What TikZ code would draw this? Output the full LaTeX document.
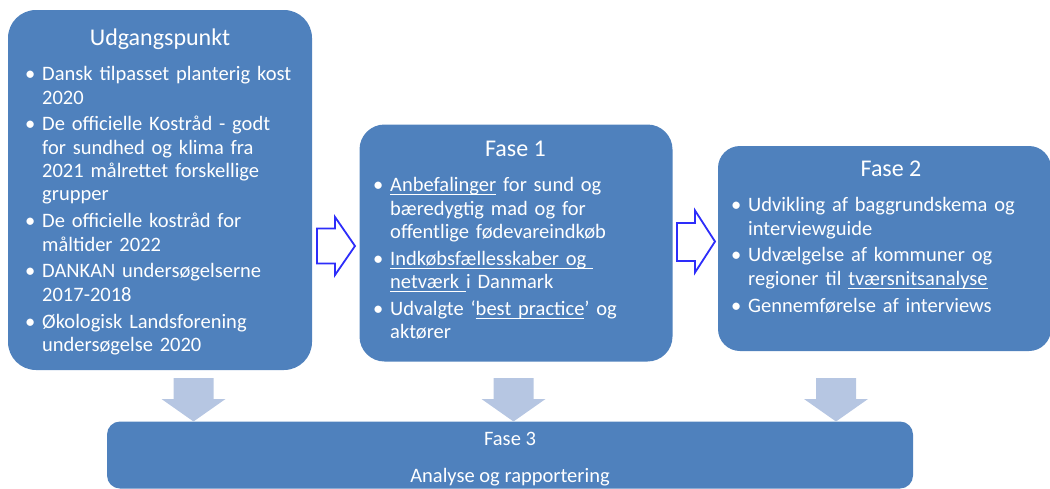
\documentclass[tikz,border=0pt]{standalone}
\usepackage{fontspec}
\setmainfont{Carlito}
\definecolor{boxblue}{RGB}{79,129,189}
\definecolor{arrowlight}{RGB}{182,198,226}
\definecolor{arrowblue}{RGB}{45,45,250}
\newcommand\bitem[1]{\noindent\hangindent=17pt\hangafter=1\makebox[17pt][l]{\textbullet}#1\par}
\newcommand\ulx[1]{\setbox0\hbox{#1}\rlap{\rule[-3.2pt]{\wd0}{0.9pt}}\box0\relax}
\begin{document}
\begin{tikzpicture}[x=1pt,y=-1pt,
  box/.style={rectangle, fill=boxblue, draw=none, inner sep=0pt},
  titletext/.style={anchor=base, text=white, font=\fontsize{24}{28}\selectfont, inner sep=0pt},
  smalltext/.style={anchor=base, text=white, font=\fontsize{20.5}{24}\selectfont, inner sep=0pt},
  bodytext/.style={anchor=base west, text=white, inner sep=0pt, text width=#1, align=left,
    font=\fontsize{20.5}{23.3}\selectfont\setlength\parskip{3.6pt}},
  downarrow/.style={fill=arrowlight, draw=none},
  rightarrow/.style={draw=arrowblue, line width=1.8pt, fill=white, line join=miter}
]
\useasboundingbox (0,0) rectangle (1050,488);

% boxes
\node[box, rounded corners=28pt, minimum width=304pt, minimum height=360pt] (u) at (160,190) {};
\node[box, rounded corners=25pt, minimum width=313pt, minimum height=237pt] (f1) at (516,243) {};
\node[box, rounded corners=22pt, minimum width=333pt, minimum height=205pt] (f2) at (884.5,248.5) {};
\node[box, rounded corners=13pt, minimum width=806pt, minimum height=67pt] (f3) at (510,455) {};

% titles
\node[titletext] (tu) at (160,45) {Udgangspunkt};
\node[titletext] (t1) at (515.5,156) {Fase 1};
\node[titletext] (t2) at (891,176) {Fase 2};
\node[smalltext] (t3) at (510,445) {Fase 3};
\node[smalltext] (t3b) at (510,482) {Analyse og rapportering};

% bodies
\node[bodytext=295pt] (bu) at (25,80.7) {%
\bitem{Dansk tilpasset planterig kost\newline 2020}%
\bitem{De officielle Kostråd - godt\newline for sundhed og klima fra\newline 2021 målrettet forskellige\newline grupper}%
\bitem{De officielle kostråd for\newline måltider 2022}%
\bitem{DANKAN undersøgelserne\newline 2017-2018}%
\bitem{Økologisk Landsforening\newline undersøgelse 2020}};

\node[bodytext=300pt] (b1) at (373,191.7) {%
\bitem{\ulx{Anbefalinger} for sund og\newline bæredygtig mad og for\newline offentlige fødevareindkøb}%
\bitem{\ulx{Indkøbsfællesskaber og\ }\newline \ulx{netværk\ }i Danmark}%
\bitem{Udvalgte ‘\ulx{best practice}’ og\newline aktører}};

\node[bodytext=315pt] (b2) at (731,211.7) {%
\bitem{Udvikling af baggrundskema og\newline interviewguide}%
\bitem{Udvælgelse af kommuner og\newline regioner til \ulx{tværsnitsanalyse}}%
\bitem{Gennemførelse af interviews}};

% right block arrows
\draw[rightarrow] (317,228.5) -- (335,228.5) -- (335,217) -- (355,246) -- (335,275) -- (335,263.5) -- (317,263.5) -- cycle;
\draw[rightarrow] (677,223) -- (695,223) -- (695,210.5) -- (715,241.5) -- (695,272.5) -- (695,261) -- (677,261) -- cycle;

% down block arrows
\foreach \c in {193.5,513.5,836}{
  \fill[downarrow] (\c-20,378) -- (\c+20,378) -- (\c+20,399) -- (\c+32,399) -- (\c,421.5) -- (\c-32,399) -- (\c-20,399) -- cycle;
}
\end{tikzpicture}
\end{document}
